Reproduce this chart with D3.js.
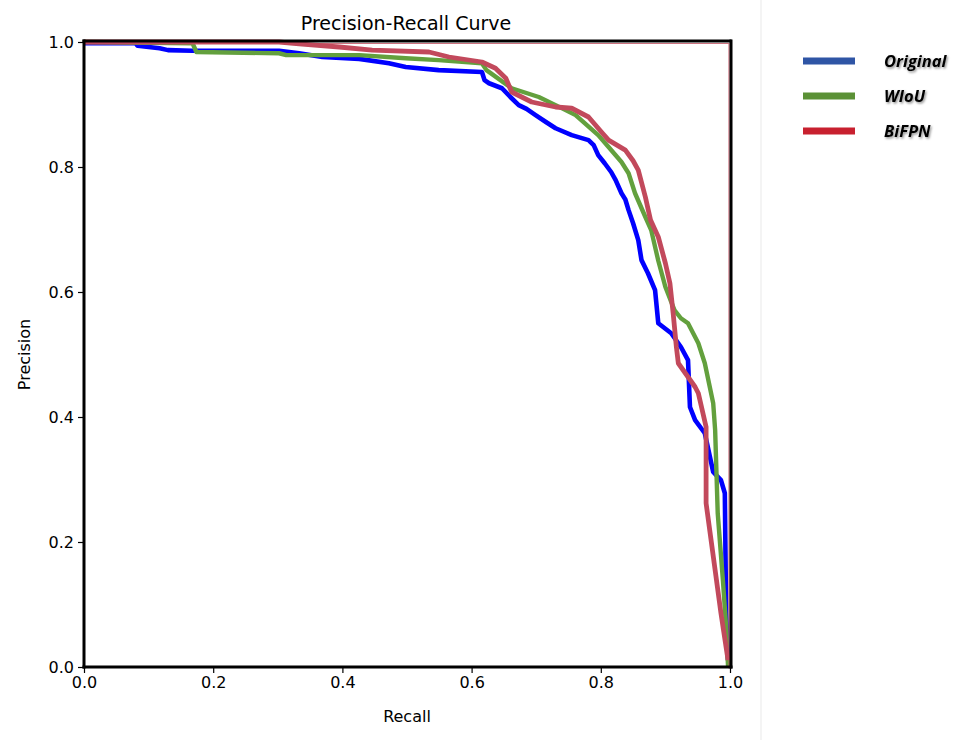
<!DOCTYPE html>
<html>
<head>
<meta charset="utf-8">
<script src="https://cdn.jsdelivr.net/npm/d3@7"></script>
<style>
  html, body { margin: 0; padding: 0; background: #fff; }
  svg { display: block; }
</style>
</head>
<body>
<svg id="chart" width="966" height="740"></svg>
<script>
// Precision-recall samples, [recall, precision]
const original = [
  [0, 0.998], [0.080, 0.998], [0.083, 0.994], [0.117, 0.990], [0.130, 0.987],
  [0.168, 0.986], [0.302, 0.986], [0.333, 0.982], [0.369, 0.976], [0.426, 0.973],
  [0.472, 0.966], [0.498, 0.960], [0.549, 0.955], [0.616, 0.952], [0.620, 0.939],
  [0.627, 0.934], [0.647, 0.926], [0.660, 0.912], [0.673, 0.899], [0.685, 0.893],
  [0.699, 0.883], [0.715, 0.872], [0.730, 0.862], [0.755, 0.851], [0.781, 0.843],
  [0.789, 0.835], [0.796, 0.819], [0.806, 0.806], [0.816, 0.792], [0.823, 0.779],
  [0.832, 0.758], [0.838, 0.748], [0.843, 0.731], [0.850, 0.710], [0.858, 0.683],
  [0.863, 0.651], [0.873, 0.630], [0.884, 0.603], [0.889, 0.550], [0.909, 0.534],
  [0.924, 0.512], [0.935, 0.491], [0.938, 0.416], [0.946, 0.395], [0.961, 0.374],
  [0.974, 0.312], [0.986, 0.299], [0.992, 0.278], [0.994, 0.086], [0.997, 0.011]
];
const wiou = [
  [0, 1.0], [0.168, 0.998], [0.174, 0.984], [0.302, 0.982], [0.313, 0.979],
  [0.426, 0.979], [0.498, 0.974], [0.549, 0.971], [0.616, 0.966], [0.623, 0.955],
  [0.662, 0.926], [0.704, 0.912], [0.730, 0.899], [0.761, 0.883], [0.796, 0.851],
  [0.812, 0.832], [0.832, 0.808], [0.843, 0.790], [0.853, 0.758], [0.869, 0.720],
  [0.878, 0.699], [0.889, 0.650], [0.900, 0.608], [0.914, 0.571], [0.924, 0.558],
  [0.935, 0.550], [0.951, 0.518], [0.961, 0.486], [0.974, 0.422], [0.977, 0.379],
  [0.981, 0.246], [0.989, 0.139], [0.994, 0.064], [0.997, 0.0]
];
const bifpn = [
  [0, 1.0], [0.302, 1.0], [0.333, 0.997], [0.395, 0.992], [0.446, 0.987],
  [0.534, 0.984], [0.565, 0.976], [0.616, 0.968], [0.637, 0.958], [0.653, 0.942],
  [0.662, 0.920], [0.693, 0.904], [0.730, 0.896], [0.755, 0.894], [0.781, 0.880],
  [0.801, 0.856], [0.812, 0.843], [0.838, 0.827], [0.850, 0.810], [0.858, 0.795],
  [0.869, 0.752], [0.877, 0.715], [0.889, 0.688], [0.900, 0.646], [0.907, 0.614],
  [0.912, 0.566], [0.917, 0.512], [0.920, 0.486], [0.946, 0.448], [0.951, 0.438],
  [0.963, 0.384], [0.963, 0.262], [0.986, 0.086], [0.997, 0.011]
];
// thin outer edge of the BiFPN curve along the top and right of the plot
const bifpnEdge = [[0, 1.0], [1.0, 1.0], [1.0, 0.0]];

const seriesNames = ["Original", "WIoU", "BiFPN"];
const legendColors = ["#2f55a5", "#5b9136", "#c8202f"];
const xTicks = [0.0, 0.2, 0.4, 0.6, 0.8, 1.0];
const yTicks = [0.0, 0.2, 0.4, 0.6, 0.8, 1.0];

const svg = d3.select("#chart");
const defs = svg.append("defs");
defs.append("filter").attr("id", "soft")
  .attr("x", "-5%").attr("y", "-5%").attr("width", "110%").attr("height", "110%")
  .append("feGaussianBlur").attr("stdDeviation", 0.7);
const shadow = defs.append("filter").attr("id", "shadow")
  .attr("x", "-20%").attr("y", "-40%").attr("width", "140%").attr("height", "180%");
shadow.append("feDropShadow").attr("dx", 1.2).attr("dy", 1.5)
  .attr("stdDeviation", 1.2).attr("flood-color", "#000").attr("flood-opacity", 0.45);

const x = d3.scaleLinear().domain([0, 1]).range([84, 730]);
const y = d3.scaleLinear().domain([0, 1]).range([667, 42]);

const line = d3.line().x(d => x(d[0])).y(d => y(d[1]));

// curves
svg.append("path").datum(original)
  .attr("d", line).attr("fill", "none")
  .attr("stroke", "#0000ff").attr("stroke-width", 4.6)
  .attr("stroke-linejoin", "round");
svg.append("path").datum(wiou)
  .attr("d", line).attr("fill", "none")
  .attr("stroke", "#63a03e").attr("stroke-width", 4.4)
  .attr("stroke-linejoin", "round").attr("filter", "url(#soft)");
svg.append("path").datum(bifpnEdge)
  .attr("d", line).attr("fill", "none")
  .attr("stroke", "#c05060").attr("stroke-width", 1.2).attr("stroke-opacity", 0.8)
  .attr("transform", "translate(-1,1.5)");
svg.append("path").datum(bifpn)
  .attr("d", line).attr("fill", "none")
  .attr("stroke", "#c24a5b").attr("stroke-width", 4.8)
  .attr("stroke-linejoin", "round").attr("filter", "url(#soft)");

// frame
svg.append("line").attr("x1", x(0) - 1.5).attr("x2", x(1) + 1.5)
  .attr("y1", y(1) - 1).attr("y2", y(1) - 1)
  .attr("stroke", "#000").attr("stroke-width", 3);
svg.append("line").attr("x1", x(1) + 1).attr("x2", x(1) + 1)
  .attr("y1", y(1) - 2.5).attr("y2", y(0) + 1.5)
  .attr("stroke", "#000").attr("stroke-width", 3);

// axes
const xAxis = svg.append("g").attr("transform", `translate(0,${y(0)})`)
  .call(d3.axisBottom(x).tickValues(xTicks).tickFormat(d3.format(".1f"))
    .tickSize(6).tickPadding(4));
const yAxis = svg.append("g").attr("transform", `translate(${x(0)},0)`)
  .call(d3.axisLeft(y).tickValues(yTicks).tickFormat(d3.format(".1f"))
    .tickSize(6).tickPadding(4));
[xAxis, yAxis].forEach(g => {
  g.select(".domain").attr("stroke", "#000").attr("stroke-width", 3);
  g.selectAll(".tick line").attr("stroke", "#000").attr("stroke-width", 1.2);
  g.selectAll(".tick text")
    .attr("font-family", "DejaVu Sans").attr("font-size", 16).attr("fill", "#000");
});
xAxis.select(".domain").attr("d", `M${x(0) - 1.5},0H${x(1) + 2.5}`);
yAxis.select(".domain").attr("d", `M0,${y(0) + 1.5}V${y(1) - 2.5}`);

// titles
svg.append("text").attr("x", 406).attr("y", 30)
  .attr("text-anchor", "middle")
  .attr("font-family", "DejaVu Sans").attr("font-size", 19)
  .text("Precision-Recall Curve");
svg.append("text").attr("x", 407).attr("y", 722)
  .attr("text-anchor", "middle")
  .attr("font-family", "DejaVu Sans").attr("font-size", 16)
  .text("Recall");
svg.append("text")
  .attr("transform", `translate(30,${(y(0) + y(1)) / 2}) rotate(-90)`)
  .attr("text-anchor", "middle")
  .attr("font-family", "DejaVu Sans").attr("font-size", 16)
  .text("Precision");

// legend panel divider
svg.append("line").attr("x1", 761).attr("x2", 761).attr("y1", 0).attr("y2", 740)
  .attr("stroke", "#f0f0f0").attr("stroke-width", 1.5);

// legend
const legendY = d3.scalePoint().domain(seriesNames).range([61, 131]);
const legend = svg.append("g");
seriesNames.forEach((name, i) => {
  legend.append("line")
    .attr("x1", 803).attr("x2", 855)
    .attr("y1", legendY(name)).attr("y2", legendY(name))
    .attr("stroke", legendColors[i]).attr("stroke-width", 7);
  legend.append("text")
    .attr("x", 884).attr("y", legendY(name) + 6)
    .attr("font-family", "Open Sans").attr("font-size", 16.5)
    .attr("font-weight", "bold").attr("font-style", "italic")
    .attr("fill", "#000").attr("filter", "url(#shadow)")
    .text(name);
});
</script>
</body>
</html>
